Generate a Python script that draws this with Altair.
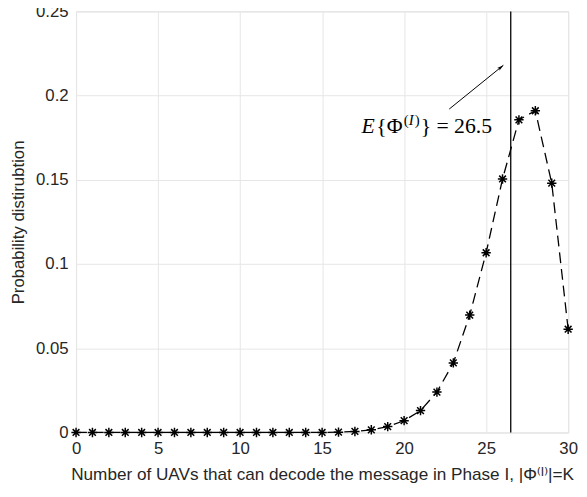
import altair as alt
import pandas as pd

k_values = list(range(0, 31))
probabilities = [0, 0, 0, 0, 0, 0, 0, 0, 0, 0, 0, 0, 0, 0, 0, 0, 0.0002, 0.0006, 0.0016, 0.0035,
                 0.007, 0.013, 0.024, 0.0413, 0.0697, 0.1067, 0.1505, 0.1856, 0.191, 0.148, 0.0613]
mean_value = 26.5
x_ticks = [0, 5, 10, 15, 20, 25, 30]
y_ticks = [0, 0.05, 0.1, 0.15, 0.2, 0.25]
arrow_tail = (22.75, 0.192)
arrow_head = (26.05, 0.218)
label_anchor = (17.4, 0.178)
# pieces of the annotation "E{Φ^(I)} = 26.5": text, x offset (px), y offset (px), size, style
label_pieces = ["E", "{Φ", "(", "I", ")", "} = 26.5"]
label_dx = [0, 15, 43, 48, 54, 60]
label_dy = [0, 0, -8, -8, -8, 0]
label_size = [22, 22, 15, 15, 15, 22]
label_style = ["italic", "normal", "normal", "italic", "normal", "normal"]

df = pd.DataFrame({"k": k_values, "p": probabilities})

x_scale = alt.Scale(domain=[0, 30], nice=False, zero=False)
y_scale = alt.Scale(domain=[0, 0.25], nice=False)

x_axis = alt.Axis(values=x_ticks, title="Number of UAVs that can decode the message in Phase I, |Φ⁽ᴵ⁾|=K",
                  grid=True, gridColor="#e6e6e6", ticks=False, tickSize=0, domain=False,
                  labelFont="Liberation Sans", labelFontSize=17, labelColor="#262626",
                  titleFont="Liberation Sans, DejaVu Sans", titleFontSize=17.4, titleFontWeight="normal",
                  titleColor="#262626", labelPadding=8, titlePadding=10, labelFlush=False)
y_axis = alt.Axis(values=y_ticks, title="Probability distirubtion",
                  grid=True, gridColor="#e6e6e6", ticks=False, tickSize=0, domain=False,
                  labelFont="Liberation Sans", labelFontSize=17, labelColor="#262626",
                  labelExpr="format(datum.value, '~g')",
                  titleFont="Liberation Sans", titleFontSize=17, titleFontWeight="normal",
                  titleColor="#262626", labelPadding=8, titlePadding=8, labelFlush=False)

base = alt.Chart(df)

line = base.mark_line(color="black", strokeWidth=1.3, strokeDash=[11, 6]).encode(
    x=alt.X("k:Q", scale=x_scale, axis=x_axis),
    y=alt.Y("p:Q", scale=y_scale, axis=y_axis),
)

asterisk = "M-1,0L1,0M0,-1L0,1M-0.72,-0.72L0.72,0.72M-0.72,0.72L0.72,-0.72"
points = base.mark_point(shape=asterisk, size=90, color="black", strokeWidth=1.5, filled=False, opacity=1).encode(
    x=alt.X("k:Q", scale=x_scale),
    y=alt.Y("p:Q", scale=y_scale),
)

vline = alt.Chart(pd.DataFrame({"m": [mean_value]})).mark_rule(color="black", strokeWidth=1.3).encode(
    x=alt.X("m:Q", scale=x_scale)
)

arrow_df = pd.DataFrame({"x": [arrow_tail[0]], "y": [arrow_tail[1]], "x2": [arrow_head[0]], "y2": [arrow_head[1]]})
arrow_line = alt.Chart(arrow_df).mark_rule(color="black", strokeWidth=1).encode(
    x=alt.X("x:Q", scale=x_scale), y=alt.Y("y:Q", scale=y_scale), x2="x2:Q", y2="y2:Q"
)
head_df = pd.DataFrame({"x": [arrow_head[0]], "y": [arrow_head[1]]})
arrow_headm = alt.Chart(head_df).mark_point(
    shape="M0,0L-0.45,1.7L0,1.3L0.45,1.7Z", size=60, filled=True, color="black", angle=51, opacity=1
).encode(x=alt.X("x:Q", scale=x_scale), y=alt.Y("y:Q", scale=y_scale))

label_layers = []
for txt, dx, dy, sz, st in zip(label_pieces, label_dx, label_dy, label_size, label_style):
    ldf = pd.DataFrame({"x": [label_anchor[0]], "y": [label_anchor[1]], "t": [txt]})
    label_layers.append(alt.Chart(ldf).mark_text(
        align="left", baseline="alphabetic", font="Liberation Serif", fontSize=sz, fontStyle=st,
        color="black", dx=dx, dy=dy
    ).encode(x=alt.X("x:Q", scale=x_scale), y=alt.Y("y:Q", scale=y_scale), text="t:N"))

chart = alt.layer(line, points, vline, arrow_line, arrow_headm, *label_layers).properties(
    width=499, height=427,
    autosize=alt.AutoSizeParams(type="none"),
    padding={"left": 69, "top": 0, "right": 11, "bottom": 62},
).configure_view(stroke="black", strokeWidth=1).configure(background="white")

chart.save("out.html", embed_options={"renderer": "svg", "actions": False})
